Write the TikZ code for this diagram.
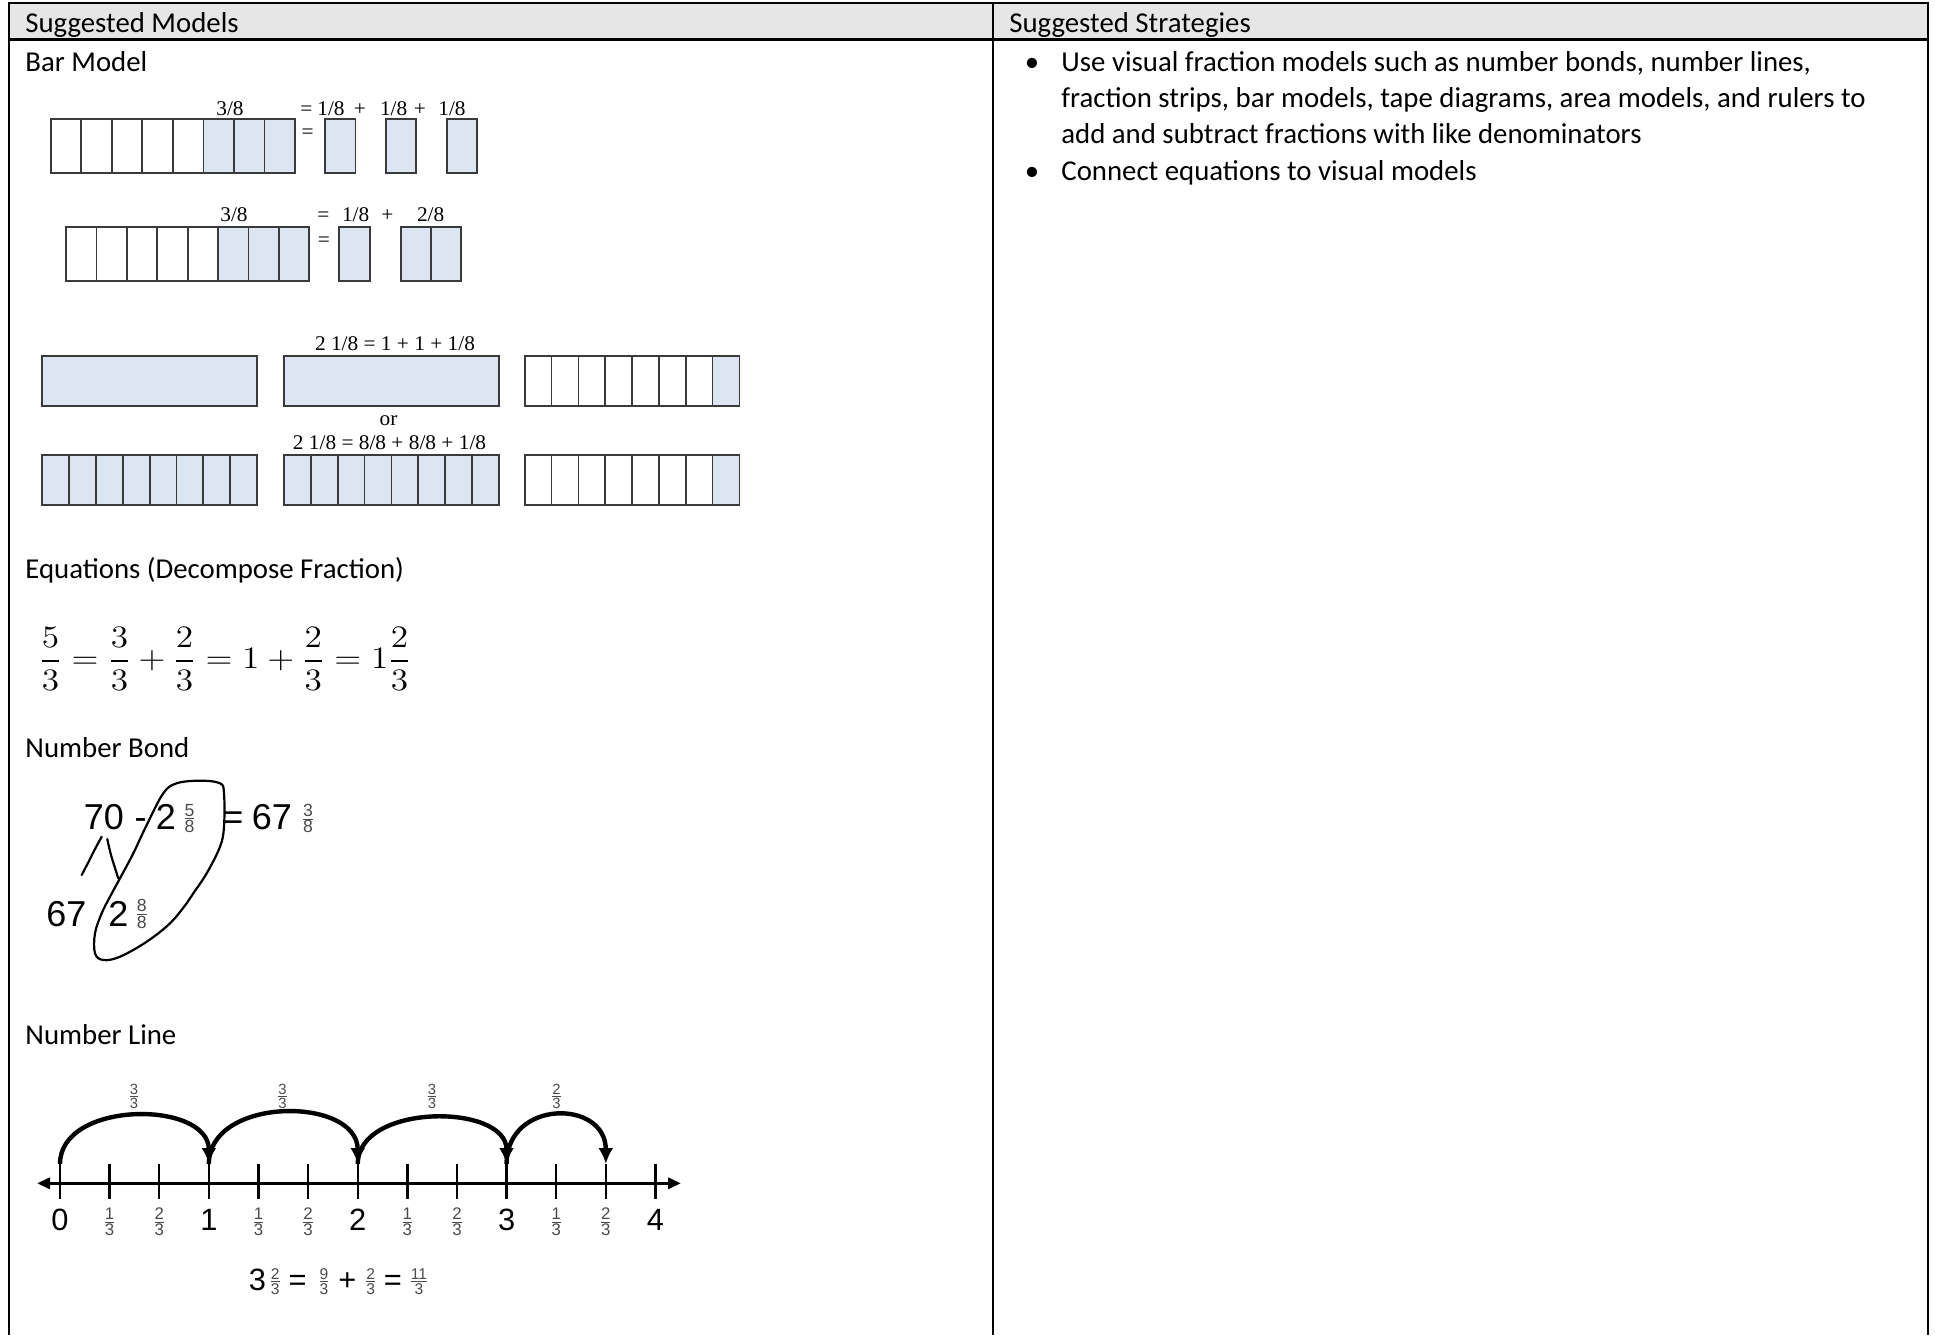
\RequirePackage{fix-cm}
\documentclass[tikz,border=0pt]{standalone}
\usepackage{amsmath}
\usepackage{graphicx}
\usepackage[no-math]{fontspec}
\setmainfont{Carlito}
\newfontfamily\timesfont{Liberation Serif}
\newfontfamily\arialfont{Liberation Sans}
\usetikzlibrary{arrows.meta}
\definecolor{headfill}{HTML}{E6E6E6}
\definecolor{barfill}{HTML}{DCE5F1}
\definecolor{barline}{HTML}{3A3A3A}
\definecolor{fracgray}{HTML}{4A4A4A}
\newcommand\sfr[2]{$\genfrac{}{}{0.5pt}{1}{\hbox{#1}}{\hbox{#2}}$}
\newcommand\tms[1]{\scalebox{0.97}[0.95]{#1}}
\tikzset{
  tline/.style    = {line width=1.1pt, draw=black},
  body/.style     = {font=\fontsize{14.4}{17.6}\selectfont, anchor=base west, inner sep=0pt},
  cell/.style     = {draw=barline, line width=0.85pt},
  shaded/.style   = {cell, fill=barfill},
  lbl/.style      = {font=\timesfont\fontsize{11}{13}\selectfont, anchor=base, inner sep=0pt},
  hand/.style     = {font=\arialfont\fontsize{18}{21}\selectfont, anchor=base, inner sep=0pt},
  numl/.style     = {font=\arialfont\fontsize{15.4}{18}\selectfont, anchor=base, inner sep=0pt},
  fr/.style       = {font=\arialfont\fontsize{#1}{#1}\selectfont, text=fracgray, inner sep=0pt},
  fr/.default     = 8,
  pen/.style      = {line width=1.1pt, line cap=round, line join=round},
  tickmark/.style = {line width=1.2pt},
  hop/.style      = {line width=2.2pt, -{Latex[length=8pt,width=7.5pt]}},
}
\begin{document}
\begin{tikzpicture}[x=0.5pt, y=-0.5pt]
  \useasboundingbox (0,0) rectangle (1935,1335);

  % table frame
  \fill[headfill] (9,3.3) rectangle (1928.3,39.5);
  \draw[tline] (9,1335) -- (9,3.3) -- (1928.3,3.3) -- (1928.3,1335);
  \draw[tline] (9,39.5) -- (1928.3,39.5);
  \draw[tline] (993.3,3.3) -- (993.3,1335);

  \node[body] (hmodels) at (25,32) {Suggested Models};
  \node[body] (hstrat) at (1009,32) {Suggested Strategies};
  \node[body] (tbar) at (25,71) {Bar Model};
  \node[body] (teq) at (25,578) {Equations (Decompose Fraction)};
  \node[body] (tbond) at (25,757) {Number Bond};
  \node[body] (tnline) at (25,1044) {Number Line};

  \node[body, anchor=base] (dot1) at (1032,71) {•};
  \node[body] (s1) at (1061,71) {Use visual fraction models such as number bonds, number lines,};
  \node[body] (s2) at (1061,107.3) {fraction strips, bar models, tape diagrams, area models, and rulers to};
  \node[body] (s3) at (1061,143.6) {add and subtract fractions with like denominators};
  \node[body, anchor=base] (dot2) at (1032,180) {•};
  \node[body] (s4) at (1061,180) {Connect equations to visual models};

  % bar model, row 1
  \fill[barfill] (203.4,119.3) rectangle (295,173.3);
  \foreach \i in {1,...,7} \draw[cell] (50.7+30.54*\i,119.3) -- ++(0,54);
  \draw[cell] (50.7,119.3) rectangle (295,173.3);
  \foreach \x in {325,385.7,446.7} \draw[shaded] (\x,119.3) rectangle ++(30.4,54);
  \node[lbl] (ra) at (230,115.7) {\tms{3/8}};
  \foreach \x/\t [count=\c] in {306.5/{=}, 331/{1/8}, 360/{+}, 393.7/{1/8}, 420/{+}, 452/{1/8}}
    \node[lbl] (ra\c) at (\x,115.7) {\tms{\t}};
  \node[lbl] (rq) at (307.7,138) {\tms{=}};

  % bar model, row 2
  \fill[barfill] (218.1,227.3) rectangle (309.3,281.3);
  \foreach \i in {1,...,7} \draw[cell] (66+30.42*\i,227.3) -- ++(0,54);
  \draw[cell] (66,227.3) rectangle (309.3,281.3);
  \draw[shaded] (339.3,227.3) rectangle (370,281.3);
  \draw[shaded] (400.7,227.3) rectangle (461,281.3);
  \draw[cell] (430.7,227.3) -- (430.7,281.3);
  \node[lbl] (rb) at (234,221.7) {\tms{3/8}};
  \foreach \x/\t [count=\c] in {323.3/{=}, 355.7/{1/8}, 387.3/{+}, 430.7/{2/8}}
    \node[lbl] (rb\c) at (\x,221.7) {\tms{\t}};
  \node[lbl] (rbq) at (324,246.4) {\tms{=}};

  % bar model, rows 3 and 4
  \draw[shaded] (42.3,355.7) rectangle ++(214.7,50);
  \draw[shaded] (284,355.7) rectangle ++(214.7,50);
  \foreach \x in {42.3,284} {
    \draw[shaded] (\x,455) rectangle ++(214.7,50);
    \foreach \i in {1,...,7} \draw[cell] (\x+26.84*\i,455) -- ++(0,50);
  }
  \foreach \y in {355.7,455} {
    \fill[barfill] (712.5,\y) rectangle ++(26.84,50);
    \foreach \i in {1,...,7} \draw[cell] (524.7+26.84*\i,\y) -- ++(0,50);
    \draw[cell] (524.7,\y) rectangle ++(214.7,50);
  }
  \node[lbl] (rc) at (395,350) {\tms{2 1/8 = 1 + 1 + 1/8}};
  \node[lbl] (ror) at (388.5,425) {\tms{or}};
  \node[lbl] (rd) at (389.5,449.3) {\tms{2 1/8 = 8/8 + 8/8 + 1/8}};

  % equation
  \node[anchor=west, inner sep=0pt] (eqn) at (39,658.8)
    {\scalebox{1.07}[0.945]{\fontsize{16.5}{20}\selectfont
     $\displaystyle \frac{5}{3}=\frac{3}{3}+\frac{2}{3}=1+\frac{2}{3}=1\frac{2}{3}$}};

  % number bond
  \node[hand, anchor=base west] (n70) at (83.5,829) {70};
  \node[hand] (nminus) at (140.5,829) {-};
  \node[hand] (ntwo) at (166,829) {2};
  \node[fr=8.8] (nfa) at (189.5,818.5) {\sfr{5}{8}};
  \node[hand] (neq) at (233,829) {=};
  \node[hand] (n67) at (272,829) {67};
  \node[fr=8.8] (nfb) at (308,818.5) {\sfr{3}{8}};
  \node[hand] (m67) at (66.5,926.7) {67};
  \node[hand] (mtwo) at (118.5,926.7) {2};
  \node[fr=8.8] (mfa) at (141.7,914) {\sfr{8}{8}};
  \draw[pen] plot[smooth] coordinates {(101.7,836.7) (95,849) (89,861) (81.7,875)};
  \draw[pen] plot[smooth] coordinates {(107.3,839) (111,855) (118.3,878.3)};
  \draw[pen] plot[smooth cycle, tension=0.6] coordinates {
    (146.7,825) (163.3,793.3) (176.7,783.3) (200,780.7) (220,783.3) (224,793.3)
    (224,826.7) (220,846.7) (206.7,873.3) (193.3,893.3) (186.7,903.3) (170,923.3)
    (146.7,941.7) (120,956.7) (103.3,960) (95,953.3) (95,933.3) (101.7,913.3)
    (110,896.7) (120,878.3) (133.3,853.3)};

  % number line
  \coordinate (axl) at (37,1183.3);
  \coordinate (axr) at (681,1183.3);
  \draw[line width=1.7pt, {Triangle[length=6.5pt,width=5.5pt]}-{Triangle[length=6.5pt,width=5.5pt]}] (axl) -- (axr);
  \foreach \k in {0,...,12} {
    \coordinate (t\k) at (60+49.62*\k,1164);
    \draw[tickmark] (t\k) -- ++(0,35);
  }
  \foreach \k/\n in {0/0,3/1,6/2,9/3,12/4}
    \node[numl] (i\n) at (60+49.62*\k,1230) {\n};
  \foreach \k in {1,2,4,5,7,8,10,11} {
    \pgfmathtruncatemacro\n{mod(\k,3)}
    \node[fr=8.4] (f\k) at (60+49.62*\k,1221.7) {\sfr{\n}{3}};
  }
  \draw[hop] (t0) .. controls +(0,-64) and +(0,-64) .. (t3);
  \draw[hop] (t3) .. controls +(0,-68) and +(0,-68) .. (t6);
  \draw[hop] (t6) .. controls +(0,-61) and +(0,-61) .. (t9);
  \draw[hop] (t9) .. controls +(0,-65) and +(0,-65) .. (t11);
  \foreach \x/\n [count=\c] in {134/3,282.6/3,432/3,556.5/2}
    \node[fr=7.4] (hl\c) at (\x,1096.7) {\sfr{\n}{3}};

  \node[numl, anchor=base west] (q3) at (248.5,1290) {3};
  \node[fr=7.8] (qa) at (275.3,1281.7) {\sfr{2}{3}};
  \node[numl] (qe1) at (297.5,1290) {=};
  \node[fr=7.8] (qb) at (324,1281.7) {\sfr{9}{3}};
  \node[numl] (qp) at (347.3,1290) {+};
  \node[fr=7.8] (qc) at (370.8,1281.7) {\sfr{2}{3}};
  \node[numl] (qe2) at (392.8,1290) {=};
  \node[fr=7.8] (qd) at (419,1281.7) {\sfr{11}{3}};

\end{tikzpicture}
\end{document}
